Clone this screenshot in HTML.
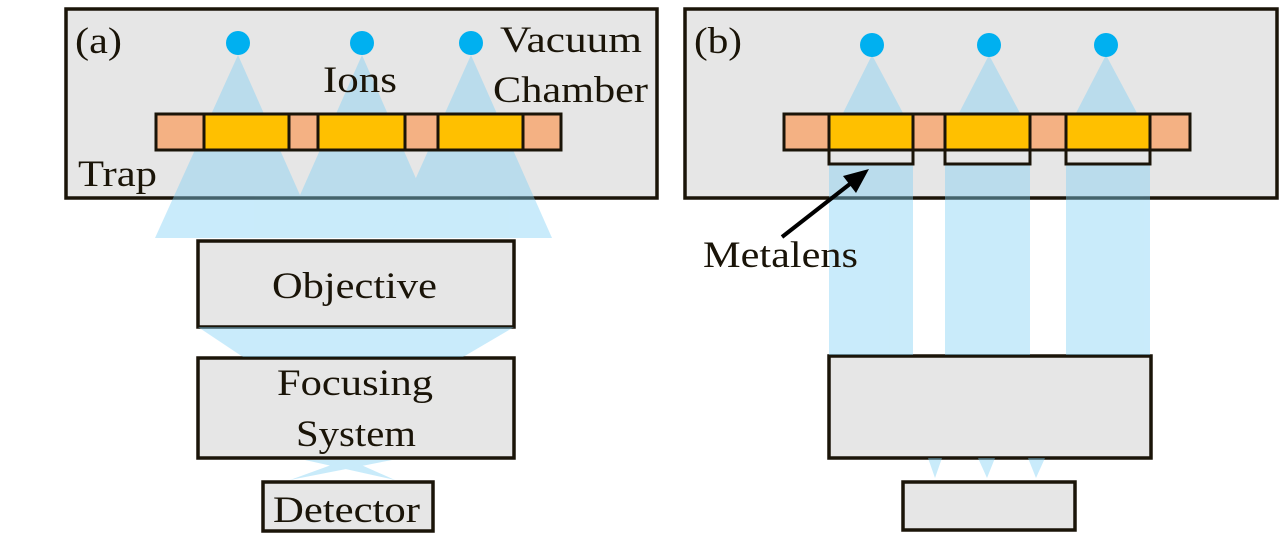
<!DOCTYPE html>
<html><head><meta charset="utf-8"><style>
html,body{margin:0;padding:0;background:#fff;}
svg{display:block;}
text{font-family:"Liberation Serif",serif;font-size:37px;fill:#1a1408;}
</style></head><body>
<svg width="1280" height="537" viewBox="0 0 1280 537" xmlns="http://www.w3.org/2000/svg">
<g stroke="#1a1408" stroke-width="3.5" fill="#e6e6e6">
<rect x="66" y="9" width="591" height="189"/>
<rect x="685" y="9" width="592" height="189"/>
<rect x="198" y="241" width="316" height="86"/>
<rect x="198" y="358" width="316" height="100"/>
<rect x="263" y="482" width="170" height="49"/>
<rect x="829" y="356" width="322" height="102"/>
<rect x="903" y="482" width="172" height="48"/>
</g>
<g fill="#7fd0f5" opacity="0.42">
<polygon points="238,55 155,238 319,238"/>
<polygon points="362,55 281,238 442,238"/>
<polygon points="471,55 389,238 552,238"/>
<polygon points="198,327 514,327 463,357 243,357"/>
<polygon points="305,460 350,460 395,480"/>
<polygon points="345,460 392,460 290,480"/>
<polygon points="872,55 843,113 903,113"/>
<polygon points="989,55 959,113 1020,113"/>
<polygon points="1106,55 1076,113 1137,113"/>
<rect x="829" y="164" width="84" height="191"/>
<rect x="945" y="164" width="85" height="191"/>
<rect x="1066" y="164" width="84" height="191"/>
<polygon points="928,458 942,458 935,478"/>
<polygon points="978,458 995,458 987,478"/>
<polygon points="1028,458 1045,458 1036,478"/>
</g>
<g fill="#00b0f0">
<circle cx="238" cy="43" r="12"/><circle cx="362" cy="43" r="12"/><circle cx="471" cy="43" r="12"/>
<circle cx="872" cy="45" r="12"/><circle cx="989" cy="45" r="12"/><circle cx="1106" cy="45" r="12"/>
</g>
<g stroke="#1a1408" stroke-width="3">
<rect x="156" y="114" width="405" height="36" fill="#f4b183"/>
<rect x="204" y="114" width="85" height="36" fill="#ffc000"/>
<rect x="318" y="114" width="87" height="36" fill="#ffc000"/>
<rect x="438" y="114" width="85" height="36" fill="#ffc000"/>
<rect x="784" y="114" width="406" height="36" fill="#f4b183"/>
<rect x="829" y="114" width="84" height="36" fill="#ffc000"/>
<rect x="945" y="114" width="85" height="36" fill="#ffc000"/>
<rect x="1066" y="114" width="84" height="36" fill="#ffc000"/>
<rect x="829" y="150" width="84" height="14" fill="#e6e6e6"/>
<rect x="945" y="150" width="85" height="14" fill="#e6e6e6"/>
<rect x="1066" y="150" width="84" height="14" fill="#e6e6e6"/>
</g>
<line x1="782" y1="237" x2="855" y2="180" stroke="#000" stroke-width="4"/>
<polygon points="869,169 843,176 856,193" fill="#000"/>
<text x="75" y="53" textLength="47" lengthAdjust="spacingAndGlyphs">(a)</text>
<text x="500" y="52" textLength="142" lengthAdjust="spacingAndGlyphs">Vacuum</text>
<text x="493" y="102" textLength="155" lengthAdjust="spacingAndGlyphs">Chamber</text>
<text x="323" y="92" textLength="74" lengthAdjust="spacingAndGlyphs">Ions</text>
<text x="78" y="186" textLength="79" lengthAdjust="spacingAndGlyphs">Trap</text>
<text x="272" y="298" textLength="165" lengthAdjust="spacingAndGlyphs">Objective</text>
<text x="277" y="395" textLength="156" lengthAdjust="spacingAndGlyphs">Focusing</text>
<text x="296" y="446" textLength="120" lengthAdjust="spacingAndGlyphs">System</text>
<text x="273" y="522" textLength="147" lengthAdjust="spacingAndGlyphs">Detector</text>
<text x="694" y="53" textLength="48" lengthAdjust="spacingAndGlyphs">(b)</text>
<text x="703" y="267" textLength="155" lengthAdjust="spacingAndGlyphs">Metalens</text>
</svg>
</body></html>
